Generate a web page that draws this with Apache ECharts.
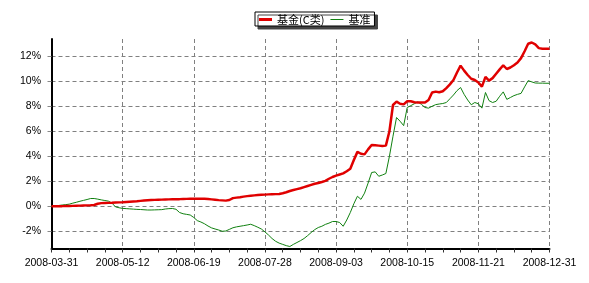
<!DOCTYPE html>
<html>
<head>
<meta charset="utf-8">
<script src="https://cdn.jsdelivr.net/npm/echarts@6/dist/echarts.min.js"></script>
<style>
html,body{margin:0;padding:0;background:#fff;}
#chart{width:589px;height:283px;}
</style>
</head>
<body>
<div id="chart"></div>
<script>
// x tick labels (every 20 samples)
const tickLabels = ['2008-03-31','2008-05-12','2008-06-19','2008-07-28','2008-09-03','2008-10-15','2008-11-21','2008-12-31'];
const yTicks = [-2, 0, 2, 4, 6, 8, 10, 12];
const seriesNames = ['基金(C类)', '基准'];

// fund (C class) cumulative return, %
const fundValues = [
0.00,0.00,0.01,0.01,0.02,0.02,0.03,0.04,0.05,0.06,
0.07,0.08,0.10,0.20,0.25,0.26,0.27,0.28,0.30,0.31,
0.32,0.34,0.36,0.38,0.40,0.43,0.46,0.48,0.50,0.51,
0.52,0.53,0.54,0.55,0.56,0.57,0.57,0.58,0.59,0.60,
0.60,0.60,0.60,0.60,0.58,0.55,0.52,0.49,0.47,0.45,
0.50,0.65,0.69,0.72,0.77,0.81,0.84,0.87,0.90,0.92,
0.93,0.95,0.96,0.97,0.98,1.04,1.12,1.22,1.30,1.37,
1.44,1.53,1.62,1.71,1.80,1.86,1.94,2.03,2.20,2.34,
2.45,2.54,2.63,2.80,3.00,3.70,4.35,4.20,4.15,4.55,
4.90,4.88,4.85,4.82,4.85,6.00,8.10,8.37,8.20,8.15,
8.40,8.40,8.32,8.30,8.30,8.30,8.50,9.10,9.17,9.12,
9.20,9.45,9.75,10.10,10.70,11.25,10.85,10.50,10.20,10.10,
9.90,9.57,10.35,10.05,10.25,10.60,10.95,11.28,10.98,11.10,
11.28,11.50,11.85,12.40,13.00,13.10,12.95,12.65,12.60,12.60,
12.60
];

// benchmark cumulative return, %
const benchValues = [
0.00,0.03,0.06,0.10,0.13,0.17,0.25,0.32,0.40,0.47,
0.54,0.62,0.62,0.57,0.51,0.46,0.41,0.25,-0.05,-0.12,
-0.17,-0.19,-0.21,-0.23,-0.25,-0.26,-0.28,-0.30,-0.30,-0.29,
-0.28,-0.27,-0.22,-0.19,-0.18,-0.24,-0.50,-0.60,-0.65,-0.70,
-0.90,-1.15,-1.26,-1.40,-1.58,-1.73,-1.82,-1.90,-2.00,-1.98,
-1.85,-1.72,-1.65,-1.60,-1.55,-1.50,-1.44,-1.55,-1.68,-1.82,
-2.05,-2.30,-2.58,-2.80,-2.95,-3.05,-3.15,-3.22,-3.05,-2.90,
-2.75,-2.58,-2.35,-2.10,-1.87,-1.70,-1.60,-1.45,-1.35,-1.22,
-1.22,-1.30,-1.60,-1.10,-0.50,0.20,0.80,0.55,1.05,1.85,
2.70,2.75,2.40,2.50,2.62,4.00,5.60,7.10,6.80,6.45,
7.90,8.05,8.20,8.35,8.15,7.90,7.85,8.00,8.13,8.18,
8.22,8.30,8.60,8.90,9.25,9.50,8.95,8.50,8.12,8.30,
8.20,7.85,9.10,8.45,8.30,8.40,8.80,9.15,8.55,8.70,
8.85,8.95,9.03,9.55,10.05,9.95,9.86,9.85,9.85,9.84,
9.84
];

const toPairs = arr => arr.map((v, i) => [i, v]);
const gridDash = { color: '#808080', width: 1, type: [4, 3] };
const labelFont = { color: '#000', fontSize: 10.5, fontFamily: 'Liberation Sans, Arial, sans-serif' };
const fundColor = '#e00000';
const benchColor = '#108010';

const chart = echarts.init(document.getElementById('chart'), null, { renderer: 'canvas' });
chart.setOption({
  animation: false,
  backgroundColor: '#fff',
  legend: {
    left: 255, top: 12,
    padding: [2, 4, 1, 4],
    itemWidth: 13, itemHeight: 12, itemGap: 6,
    symbolKeepAspect: true,
    backgroundColor: '#fff',
    borderColor: '#000', borderWidth: 1, borderRadius: 0,
    shadowColor: '#444', shadowBlur: 0, shadowOffsetX: 3, shadowOffsetY: 3,
    textStyle: { color: '#000', fontSize: 11, fontFamily: 'Noto Sans CJK SC, sans-serif' },
    data: [
      { name: seriesNames[0], icon: 'path://M0,0H13V3H0Z', itemStyle: { color: fundColor } },
      { name: seriesNames[1], icon: 'path://M0,0H13V1H0Z', itemStyle: { color: benchColor } }
    ]
  },
  grid: { left: 51.5, right: 39.5, top: 39, bottom: 34.5, containLabel: false },
  xAxis: {
    type: 'value', min: 0, max: fundValues.length - 1, interval: 20,
    axisLine: { show: true, onZero: false, lineStyle: { color: '#000', width: 2 } },
    axisTick: { show: true, length: 4, lineStyle: { color: '#333' } },
    minorTick: { show: true, splitNumber: 4, length: 4, lineStyle: { color: '#333' } },
    splitLine: { show: true, lineStyle: gridDash },
    axisLabel: Object.assign({ margin: 9, formatter: v => tickLabels[Math.round(v / 20)] || '' }, labelFont)
  },
  yAxis: {
    type: 'value', min: -3.38, max: 13.38, offset: 2.5,
    axisLine: { show: true, lineStyle: { color: '#000', width: 2 } },
    axisTick: { show: true, length: 4, customValues: yTicks, lineStyle: { color: '#888' } },
    splitLine: { show: true, lineStyle: gridDash },
    axisLabel: Object.assign({ margin: 8, customValues: yTicks, formatter: v => v + '%' }, labelFont)
  },
  series: [
    { name: seriesNames[0], type: 'line', data: toPairs(fundValues), symbol: 'none', z: 3,
      lineStyle: { color: fundColor, width: 2.5 }, itemStyle: { color: fundColor } },
    { name: seriesNames[1], type: 'line', data: toPairs(benchValues), symbol: 'none', z: 2,
      lineStyle: { color: benchColor, width: 1 }, itemStyle: { color: benchColor } }
  ]
});
</script>
</body>
</html>
